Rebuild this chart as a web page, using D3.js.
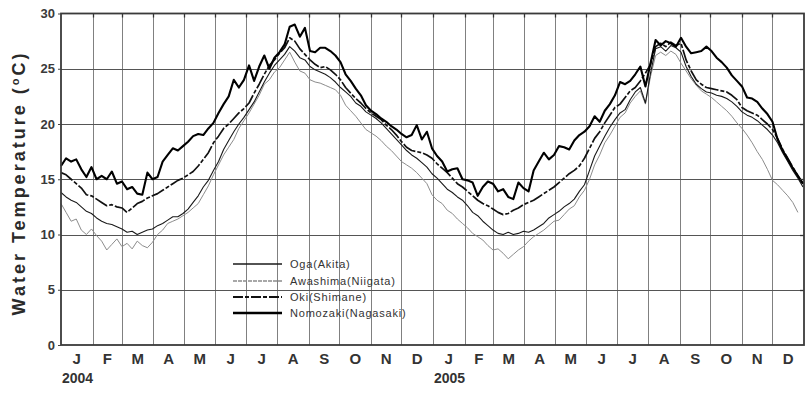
<!DOCTYPE html>
<html>
<head>
<meta charset="utf-8">
<script src="https://cdn.jsdelivr.net/npm/d3@7"></script>
<style>
  html, body { margin: 0; padding: 0; background: #fff; }
  svg { display: block; font-family: "Liberation Sans", Arial, sans-serif; }
</style>
</head>
<body>
<svg id="chart" width="811" height="394"></svg>
<script>
// Daily coastal water temperature, sampled every 5 days from 1 Jan 2004
const startDate = Date.UTC(2004, 0, 1);
const stepDays = 5;

const oga = [
  13.8,13.4,13.1,12.9,12.5,12.1,11.9,11.5,11.2,11.0,10.9,10.7,10.5,10.2,10.3,10.0,10.2,10.4,10.5,10.8,
  11.0,11.3,11.6,11.6,11.9,12.3,12.9,13.5,14.3,14.9,15.8,16.6,17.7,18.5,19.3,20.0,20.6,21.3,22.0,22.9,
  23.8,24.6,25.3,25.8,26.3,27.0,26.6,26.0,25.8,25.2,24.9,24.7,24.5,24.2,23.8,23.3,22.9,22.5,21.9,21.6,
  21.1,20.8,20.5,20.1,19.6,19.1,18.6,18.1,17.6,17.2,16.9,16.5,16.1,15.5,15.1,14.6,14.1,13.8,13.4,13.1,
  12.6,12.0,11.7,11.2,10.8,10.4,10.1,10.0,10.2,10.0,10.1,10.3,10.2,10.4,10.7,11.0,11.5,11.8,12.1,12.5,
  12.8,13.2,13.9,14.5,15.8,17.1,18.0,18.9,19.7,20.4,21.0,21.3,22.2,22.9,23.3,21.9,24.6,26.8,27.0,26.6,
  27.1,26.9,26.5,25.2,24.3,23.6,23.2,22.9,22.8,22.6,22.5,22.3,22.0,21.6,21.1,20.8,20.6,20.3,19.9,19.5,
  19.0,18.3,17.4,16.6,15.8,15.1,14.3
];

const awashima = [
  12.8,12.0,11.2,11.4,10.4,10.0,10.5,9.9,9.4,8.6,9.1,9.6,8.9,9.2,8.7,9.4,9.0,8.8,9.3,10.0,
  10.4,11.0,11.2,11.4,11.7,12.0,12.4,12.8,13.6,14.4,15.4,16.3,17.2,17.9,18.6,19.6,20.3,21.0,21.8,22.6,
  23.6,24.0,24.7,25.1,25.8,26.5,25.6,24.8,24.6,24.0,23.8,23.7,23.5,23.3,23.1,22.6,21.7,21.2,20.7,20.1,
  19.5,19.2,18.9,18.5,18.0,17.6,17.1,16.6,16.3,16.0,15.6,15.1,14.6,13.6,13.1,12.8,12.2,11.9,11.4,11.0,
  10.6,10.1,9.8,9.5,9.0,8.6,8.7,8.3,7.8,8.2,8.6,8.9,9.4,9.8,10.1,10.4,10.8,11.2,11.3,11.8,
  12.3,12.6,13.4,14.0,15.0,16.3,17.2,18.3,19.0,19.8,20.6,21.0,21.9,22.5,23.0,21.8,24.3,26.2,26.5,26.2,
  26.6,26.3,25.5,24.8,24.1,23.5,23.0,22.7,22.4,22.0,21.6,21.2,20.7,20.1,19.6,19.0,18.3,17.5,16.8,15.9,
  14.9,14.5,14.0,13.5,12.9,12.0
];

const oki = [
  15.6,15.4,15.0,14.6,14.2,13.6,13.5,13.2,12.9,12.6,12.7,12.5,12.4,12.0,12.4,12.8,13.0,13.3,13.5,13.7,
  14.0,14.3,14.6,14.9,15.1,15.4,15.7,16.2,16.8,17.4,18.3,18.9,19.6,20.0,20.5,21.0,21.4,21.9,22.8,23.6,
  24.5,25.3,25.8,26.4,26.9,27.8,27.5,26.8,26.3,25.8,25.4,25.1,25.2,24.9,24.5,24.0,23.3,22.8,22.3,21.9,
  21.4,21.0,20.7,20.4,19.9,19.5,19.0,18.4,17.9,17.6,17.5,17.4,17.2,16.9,16.4,16.0,15.6,15.1,14.6,14.3,
  13.9,13.5,13.1,12.8,12.6,12.3,12.0,11.8,11.9,12.2,12.4,12.7,12.9,13.1,13.4,13.7,14.0,14.3,14.7,15.1,
  15.5,15.8,16.2,16.9,17.8,18.7,19.3,20.1,20.8,21.5,21.8,22.4,23.0,23.3,23.9,24.6,25.4,27.0,27.3,27.0,
  27.4,27.1,27.3,25.8,24.8,24.0,23.6,23.3,23.2,23.1,23.0,22.9,22.6,22.2,21.5,21.2,21.0,20.8,20.4,20.0,
  19.5,18.7,17.7,16.9,16.1,15.3,14.6
];

const nomozaki = [
  16.2,16.9,16.6,16.8,15.9,15.2,16.1,15.0,15.3,15.0,15.7,14.6,14.8,14.1,14.3,13.7,13.6,15.6,15.0,15.2,
  16.6,17.2,17.8,17.6,18.0,18.4,18.9,19.1,19.0,19.6,20.1,21.0,21.8,22.5,24.0,23.3,24.0,25.3,23.9,25.2,
  26.2,25.0,26.0,26.5,27.2,28.8,29.0,27.9,28.7,26.6,26.5,26.9,26.9,26.6,26.2,25.6,24.5,23.9,23.2,22.6,
  21.7,21.2,20.9,20.5,20.2,19.8,19.5,19.1,18.8,19.0,19.9,18.6,19.3,17.8,17.1,16.6,15.7,15.9,16.0,15.0,
  14.9,14.7,13.5,14.3,14.8,14.6,13.9,14.1,13.4,13.2,14.7,14.2,13.9,15.8,16.6,17.4,16.8,17.2,18.0,17.9,
  17.7,18.5,19.0,19.3,19.8,20.7,20.2,21.2,21.8,22.6,23.8,23.6,23.9,24.5,25.2,23.4,25.5,27.6,27.1,27.5,
  27.3,27.0,27.8,27.0,26.4,26.5,26.6,27.0,26.6,26.0,25.6,25.1,24.4,23.9,23.4,22.4,22.3,22.0,21.4,20.9,
  20.2,18.6,17.6,16.8,16.0,15.3,14.6
];

const monthLabels = ["J","F","M","A","M","J","J","A","S","O","N","D"];
const yearLabels = ["2004", "2005"];
const yTicks = [0, 5, 10, 15, 20, 25, 30];

const seriesNames = ["Oga(Akita)", "Awashima(Niigata)", "Oki(Shimane)", "Nomozaki(Nagasaki)"];
const seriesValues = [oga, awashima, oki, nomozaki];
const seriesStyle = [
  { stroke: "#1a1a1a", width: 1.1, dash: null },
  { stroke: "#8c8c8c", width: 1.0, dash: null },
  { stroke: "#111111", width: 1.7, dash: "14,2,4,2" },
  { stroke: "#000000", width: 2.1, dash: null }
];
// draw the grey series underneath the black ones
const drawOrder = [1, 0, 2, 3];

const svg = d3.select("#chart");
const plot = { left: 61, right: 804, top: 13.5, bottom: 345 };
const dayMs = 86400000;

const x = d3.scaleUtc()
  .domain([new Date(startDate), new Date(Date.UTC(2006, 0, 1))])
  .range([plot.left, plot.right]);
const y = d3.scaleLinear().domain([0, 30]).range([plot.bottom, plot.top]);

const months = d3.utcMonth.range(new Date(startDate), new Date(Date.UTC(2006, 0, 1)));

// grid
const grid = svg.append("g");
grid.selectAll("line.v").data(months.slice(1)).join("line")
  .attr("x1", d => Math.round(x(d)) + 0.5).attr("x2", d => Math.round(x(d)) + 0.5)
  .attr("y1", plot.top).attr("y2", plot.bottom)
  .attr("stroke", "#808080").attr("stroke-width", 1);
grid.selectAll("line.h").data(yTicks.slice(1, -1)).join("line")
  .attr("x1", plot.left).attr("x2", plot.right)
  .attr("y1", d => Math.round(y(d)) + 0.5).attr("y2", d => Math.round(y(d)) + 0.5)
  .attr("stroke", "#555").attr("stroke-width", 1);

// series
const line = d3.line()
  .x((v, i) => x(new Date(startDate + i * stepDays * dayMs)))
  .y(v => y(v));

svg.append("g").selectAll("path").data(drawOrder).join("path")
  .attr("d", k => line(seriesValues[k]))
  .attr("fill", "none")
  .attr("stroke", k => seriesStyle[k].stroke)
  .attr("stroke-width", k => seriesStyle[k].width)
  .attr("stroke-dasharray", k => seriesStyle[k].dash)
  .attr("stroke-linejoin", "round");

// frame with small inner ticks
const frame = svg.append("g");
frame.selectAll("line.tt").data(months.slice(1)).join("line")
  .attr("x1", d => Math.round(x(d)) + 0.5).attr("x2", d => Math.round(x(d)) + 0.5)
  .attr("y1", plot.top).attr("y2", plot.top + 4)
  .attr("stroke", "#333").attr("stroke-width", 1.3);
frame.selectAll("line.rt").data(yTicks.slice(1, -1)).join("line")
  .attr("x1", plot.right - 4).attr("x2", plot.right)
  .attr("y1", d => Math.round(y(d)) + 0.5).attr("y2", d => Math.round(y(d)) + 0.5)
  .attr("stroke", "#333").attr("stroke-width", 1.3);
frame.append("rect")
  .attr("x", plot.left).attr("y", plot.top)
  .attr("width", plot.right - plot.left).attr("height", plot.bottom - plot.top)
  .attr("fill", "none").attr("stroke", "#3a3a3a").attr("stroke-width", 1.8);

// y axis
const yAxis = svg.append("g")
  .attr("transform", `translate(${plot.left},0)`)
  .call(d3.axisLeft(y).tickValues(yTicks).tickSize(3).tickPadding(3));
yAxis.select(".domain").remove();
yAxis.selectAll(".tick line").attr("stroke", "#444");
yAxis.selectAll("text")
  .attr("font-family", "Liberation Sans, Arial, sans-serif")
  .attr("font-size", 13).attr("font-weight", "bold").attr("fill", "#3a3a3a");

// month labels centred in each month
svg.append("g").selectAll("text").data(months).join("text")
  .attr("x", d => (x(d) + x(d3.utcMonth.offset(d, 1))) / 2)
  .attr("y", 364)
  .attr("text-anchor", "middle")
  .attr("font-size", 15).attr("font-weight", "bold").attr("fill", "#333")
  .text(d => monthLabels[d.getUTCMonth()]);

// year labels under each January
svg.append("g").selectAll("text").data(yearLabels).join("text")
  .attr("x", (d, i) => x(new Date(Date.UTC(2004 + i, 0, 1))) + 1)
  .attr("y", 383)
  .attr("font-size", 14).attr("font-weight", "bold").attr("fill", "#333")
  .text(d => d);

// y axis title
const title = svg.append("text")
  .attr("transform", "translate(25,183) rotate(-90)")
  .attr("text-anchor", "middle")
  .attr("font-size", 18).attr("font-weight", "bold").attr("fill", "#2a2a2a")
  .attr("letter-spacing", 3);
title.append("tspan").text("Water Temperature (");
title.append("tspan").attr("font-size", 11).attr("dy", -6).text("o");
title.append("tspan").attr("dy", 6).text("C)");

// legend
const legend = svg.append("g");
const legendRows = [264, 281, 297, 313];
legend.selectAll("line").data(d3.range(seriesNames.length)).join("line")
  .attr("x1", 233).attr("x2", 282)
  .attr("y1", i => legendRows[i]).attr("y2", i => legendRows[i])
  .attr("stroke", i => seriesStyle[i].stroke)
  .attr("stroke-width", i => seriesStyle[i].width + 0.3)
  .attr("stroke-dasharray", i => i === 2 ? "10,2,4,2" : (i === 1 ? "4,1" : null));
legend.selectAll("text").data(seriesNames).join("text")
  .attr("x", 290).attr("y", (d, i) => legendRows[i] + 4)
  .attr("font-size", 11).attr("letter-spacing", 0.8).attr("fill", "#333")
  .text(d => d);
</script>
</body>
</html>
